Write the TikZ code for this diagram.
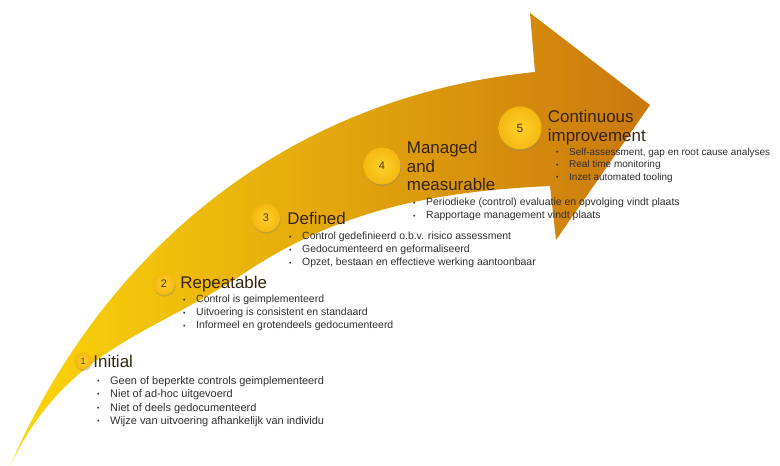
\documentclass[tikz,border=0pt]{standalone}
\usepackage{fontspec}
\setmainfont{Liberation Sans}
\usepackage{xcolor}
\usepackage{tikz}
\usetikzlibrary{positioning,shadows}
\definecolor{arrowYellow}{RGB}{252,214,10}
\definecolor{arrowGold}{RGB}{236,166,18}
\definecolor{arrowDark}{RGB}{202,120,14}
\definecolor{ballIn}{RGB}{255,208,42}
\definecolor{ballOut}{RGB}{245,184,18}
\definecolor{numBrown}{RGB}{80,52,10}
\definecolor{headText}{RGB}{52,36,12}
\definecolor{listText}{RGB}{48,47,45}
\newcommand{\bul}{\makebox[13bp][l]{\raisebox{0.6bp}{\fontsize{7}{7}\selectfont\textbullet}}}
\tikzset{
    stagenum/.style={
        circle,
        minimum size=#1,
        inner sep=0pt,
        inner color=ballIn,
        outer color=ballOut,
        text=numBrown,
        font=\fontsize{11}{11}\selectfont,
        drop shadow={opacity=0.35, shadow xshift=0.6pt, shadow yshift=-1.6pt}
    },
    stagetitle/.style={
        inner sep=0pt,
        text=headText,
        align=left,
        font=\fontsize{17}{19}\selectfont
    },
    stagelist/.style={
        anchor=north west,
        inner sep=0pt,
        text=listText,
        align=left,
        font=\fontsize{10.5}{13}\selectfont
    }
}

\begin{document}
\begin{tikzpicture}[x=1bp, y=-1bp]
          \useasboundingbox (0,0) rectangle (780,466);
          % the big curved arrow
          \shade[left color=arrowYellow, middle color=arrowGold, right color=arrowDark]
            (10,466) .. controls (90,280) and (260,100) .. (535,72)
            -- (530,13) -- (650,105) -- (556,240) -- (550,186)
            .. controls (420,192) and (330,215) .. (240,276)
            .. controls (150,335) and (65,350) .. (10,466) -- cycle;
          % stages
          \node (c1) [stagenum=17bp, font=\fontsize{9}{9}\selectfont] at (83,361) {1};
          \node (t1) [stagetitle, right=1.5bp of c1] {Initial};
          \node (b1) [stagelist, font=\fontsize{11}{13.5}\selectfont] at (97,376) {\bul Geen of beperkte controls geimplementeerd\\
            \bul Niet of ad-hoc uitgevoerd\\
            \bul Niet of deels gedocumenteerd\\
            \bul Wijze van uitvoering afhankelijk van individu};
          \node (c2) [stagenum=22bp] at (164,284) {2};
          \node (t2) [stagetitle, right=5bp of c2] {Repeatable};
          \node (b2) [stagelist] at (183,295) {\bul Control is geimplementeerd\\
            \bul Uitvoering is consistent en standaard\\
            \bul Informeel en grotendeels gedocumenteerd};
          \node (c3) [stagenum=28bp] at (266,218) {3};
          \node (t3) [stagetitle, right=7bp of c3] {Defined};
          \node (b3) [stagelist] at (289,232) {\bul Control gedefinieerd o.b.v. risico assessment\\
            \bul Gedocumenteerd en geformaliseerd\\
            \bul Opzet, bestaan en effectieve werking aantoonbaar};
          \node (c4) [stagenum=37bp] at (382,166) {4};
          \node (t4) [stagetitle, right=6bp of c4] {Managed\\and\\measurable};
          \node (b4) [stagelist] at (413,198) {\bul Periodieke (control) evaluatie en opvolging vindt plaats\\
            \bul Rapportage management vindt plaats};
          \node (c5) [stagenum=43bp, font=\fontsize{12}{12}\selectfont] at (520,128) {5};
          \node (t5) [stagetitle, right=6bp of c5] {Continuous\\improvement};
          \node (b5) [stagelist, font=\fontsize{10}{12.5}\selectfont] at (556,148) {\bul Self-assessment, gap en root cause analyses\\
            \bul Real time monitoring\\
            \bul Inzet automated tooling};
        \end{tikzpicture}
\end{document}
